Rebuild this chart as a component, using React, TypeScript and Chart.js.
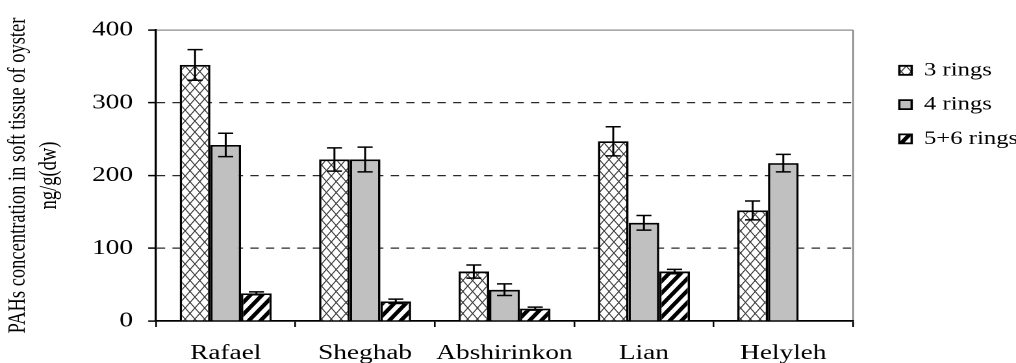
import React, { useEffect, useRef } from 'react';
import { Chart, registerables } from 'chart.js';

Chart.register(...registerables);

// ---------- data ----------
const categories = ['Rafael', 'Sheghab', 'Abshirinkon', 'Lian', 'Helyleh'];
const seriesLabels = ['3 rings', '4 rings', '5+6 rings'];
const rings3 = [352, 222, 68, 247, 152];
const rings4 = [242, 222, 43, 135, 217];
const rings56 = [38, 27, 17, 68, 0];
const err3 = [21, 16, 9, 20, 13];
const err4 = [16, 17, 8, 10, 12];
const err56 = [2, 3, 2, 3, 0];
const yTicks = [0, 100, 200, 300, 400];
const yTitle = ['PAHs concentration in soft tissue of oyster', 'ng/g(dw)'];

// ---------- geometry ----------
const OUT_W = 1016;
const OUT_H = 363;
const W = 782; // internal drawing width, stretched horizontally to OUT_W
const K = OUT_W / W;
const px = (imgX: number) => imgX / K;

const AREA_LEFT = px(156);
const AREA_RIGHT = px(853);
const AREA_TOP = 30;
const AREA_BOTTOM = 321;
const LEG_PAD = 15.3;
const LEG_LEFT = px(899.3) - LEG_PAD;
const LEG_TOP = 60.8 - LEG_PAD;
const CAP = 5.8;
const FONT = "'Liberation Serif', 'Times New Roman', serif";

function makePattern(w: number, h: number, draw: (g: CanvasRenderingContext2D, w: number, h: number) => void) {
  const R = 2;
  const c = document.createElement('canvas');
  c.width = Math.round(w * R);
  c.height = Math.round(h * R);
  const g = c.getContext('2d')!;
  g.scale(R, R);
  draw(g, w, h);
  const p = g.createPattern(c, 'repeat')!;
  try {
    p.setTransform(new DOMMatrix().scale(1 / R));
  } catch (e) {
    /* ignore */
  }
  return p;
}

function crossHatch() {
  return makePattern(7.5, 11, (g, w, h) => {
    g.fillStyle = '#fff';
    g.fillRect(0, 0, w, h);
    g.strokeStyle = '#3a3a3a';
    g.lineWidth = 0.9;
    g.beginPath();
    for (let k = -1; k <= 1; k++) {
      g.moveTo(k * w - w, -h);
      g.lineTo(k * w + 2 * w, 2 * h);
      g.moveTo(k * w + 2 * w, -h);
      g.lineTo(k * w - w, 2 * h);
    }
    g.stroke();
  });
}

function diagHatch() {
  return makePattern(9, 12, (g, w, h) => {
    g.fillStyle = '#fff';
    g.fillRect(0, 0, w, h);
    g.strokeStyle = '#000';
    g.lineWidth = 3.4;
    g.beginPath();
    for (let k = -1; k <= 3; k++) {
      g.moveTo(k * w + w, -h);
      g.lineTo(k * w - 2 * w, 2 * h);
    }
    g.stroke();
  });
}

const errors = [err3, err4, err56];

const errorBars = {
  id: 'errorBars',
  afterDatasetsDraw(chart: any) {
    const { ctx } = chart;
    const ys = chart.scales.y;
    ctx.save();
    ctx.strokeStyle = '#000';
    ctx.lineWidth = 1.5;
    errors.forEach((errs, i) => {
      const meta = chart.getDatasetMeta(i);
      meta.data.forEach((bar: any, j: number) => {
        const e = errs[j];
        if (!e) return;
        const v = chart.data.datasets[i].data[j] as number;
        const x = bar.x;
        const y1 = ys.getPixelForValue(v + e);
        const y2 = ys.getPixelForValue(v - e);
        ctx.beginPath();
        ctx.moveTo(x, y1);
        ctx.lineTo(x, y2);
        ctx.moveTo(x - CAP, y1);
        ctx.lineTo(x + CAP, y1);
        ctx.moveTo(x - CAP, y2);
        ctx.lineTo(x + CAP, y2);
        ctx.stroke();
      });
    });
    ctx.restore();
  },
};

const layoutFix = {
  id: 'layoutFix',
  beforeLayout(chart: any) {
    const lg = chart.legend;
    if (lg && !lg.__fixed) {
      const orig = lg.fit.bind(lg);
      lg.fit = function () {
        orig();
        lg.width = W - AREA_RIGHT;
      };
      lg.__fixed = true;
    }
  },
  afterLayout(chart: any) {
    const lg = chart.legend;
    if (lg) {
      const w = lg.width;
      const h = lg.height;
      lg.left = LEG_LEFT;
      lg.top = LEG_TOP;
      lg.right = lg.left + w;
      lg.bottom = lg.top + h;
    }
  },
};

export default function App() {
  const ref = useRef<HTMLCanvasElement>(null);

  useEffect(() => {
    const canvas = ref.current;
    if (!canvas) return;
    Chart.defaults.font.family = FONT;
    Chart.defaults.color = '#000';

    const cross = crossHatch();
    const hatch = diagHatch();

    const chart = new Chart(canvas, {
      type: 'bar',
      data: {
        labels: categories,
        datasets: [
          { label: seriesLabels[0], data: rings3, backgroundColor: cross as any, borderColor: '#000', borderWidth: 1.8 },
          { label: seriesLabels[1], data: rings4, backgroundColor: '#c0c0c0', borderColor: '#000', borderWidth: 1.8 },
          { label: seriesLabels[2], data: rings56, backgroundColor: hatch as any, borderColor: '#000', borderWidth: 1.8 },
        ],
      },
      options: {
        responsive: false,
        animation: false,
        devicePixelRatio: 2,
        datasets: { bar: { categoryPercentage: 0.66, barPercentage: 1.0 } },
        layout: { padding: { top: AREA_TOP, left: 0, right: 0, bottom: 0 } },
        plugins: {
          tooltip: { enabled: false },
          legend: {
            display: true,
            position: 'right',
            align: 'start',
            labels: {
              font: { family: FONT, size: 19 },
              color: '#000',
              boxWidth: 9.5,
              boxHeight: 9,
              padding: LEG_PAD,
            },
          },
        },
        scales: {
          x: {
            afterFit: (s: any) => {
              s.height = OUT_H - AREA_BOTTOM;
            },
            ticks: { font: { family: FONT, size: 21 }, color: '#000', padding: 14, maxRotation: 0, autoSkip: false },
            grid: {
              offset: true,
              color: (c: any) => (c.index === undefined ? '#8c8c8c' : 'rgba(0,0,0,0)'),
              lineWidth: 1.3,
              tickColor: '#000',
              tickLength: 6,
              tickWidth: 1.3,
              drawTicks: true,
            },
            border: { display: true, color: '#000', width: 1.7 },
          },
          y: {
            min: 0,
            max: 400,
            afterBuildTicks: (s: any) => {
              s.ticks = yTicks.map((v) => ({ value: v }));
            },
            afterFit: (s: any) => {
              s.width = AREA_LEFT;
            },
            ticks: { font: { family: FONT, size: 21 }, color: '#000', padding: 11.7 },
            grid: {
              color: (c: any) =>
                c.tick && c.tick.value === 400 ? '#8c8c8c' : c.tick && c.tick.value === 0 ? 'rgba(0,0,0,0)' : '#2a2a2a',
              lineWidth: 1.2,
              tickColor: '#000',
              tickLength: 6,
              tickWidth: 1.5,
              tickBorderDash: [],
              drawTicks: true,
            },
            border: {
              display: true,
              color: '#000',
              width: 1.7,
              dash: (c: any) => (c.tick && c.tick.value > 0 && c.tick.value < 400 ? [6.4, 5.6] : []),
            },
            title: {
              display: true,
              text: yTitle,
              color: '#000',
              font: { family: FONT, size: 18.5, lineHeight: 1.31 },
              padding: { top: 2, bottom: 0 },
            },
          },
        },
      },
      plugins: [layoutFix, errorBars],
    } as any);

    return () => chart.destroy();
  }, []);

  return (
    <div style={{ position: 'absolute', left: 0, top: 0, width: OUT_W, height: OUT_H, background: '#fff' }}>
      <canvas
        ref={ref}
        width={W}
        height={OUT_H}
        style={{ display: 'block', width: OUT_W + 'px', height: OUT_H + 'px' }}
      />
    </div>
  );
}
